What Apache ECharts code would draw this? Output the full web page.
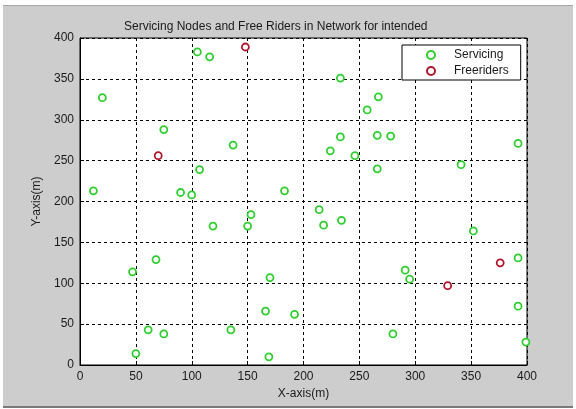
<!DOCTYPE html>
<html>
<head>
<meta charset="utf-8">
<script src="https://cdn.jsdelivr.net/npm/echarts@6/dist/echarts.min.js"></script>
<style>
  html, body { margin: 0; padding: 0; background: #ffffff; }
  #frame { position: absolute; left: 3px; top: 5px; width: 570px; height: 400px;
           background: #cdcdcd; border-top: 1px solid #a8a8a8; border-bottom: 2px solid #7a7a7a; }
  #chart { position: absolute; left: 0; top: 0; width: 576px; height: 409px; }
</style>
</head>
<body>
<div id="frame"></div>
<div id="chart"></div>
<script>
// Node positions (x, y) in metres
const servicingX = [105, 116, 20, 75, 137, 107, 12, 90, 100, 183,
                    233, 267, 257, 233, 266, 278, 392, 224, 246, 266,
                    341, 214, 153, 119, 150, 68, 47, 170, 166, 192,
                    61, 75, 135, 50, 169, 218, 234, 352, 392, 291,
                    295, 392, 280, 399];
const servicingY = [383, 377, 327, 288, 269, 239, 213, 211, 208, 213,
                    351, 328, 312, 279, 281, 280, 271, 262, 256, 240,
                    245, 190, 184, 170, 170, 129, 114, 107, 66, 62,
                    43, 38, 43, 14, 10, 171, 177, 164, 131, 116,
                    105, 72, 38, 28];
const freeriderX = [148, 70, 376, 329];
const freeriderY = [389, 256, 125, 97];

const axisTicks = [0, 50, 100, 150, 200, 250, 300, 350, 400];

const pairs = (xs, ys) => xs.map((x, i) => [x, ys[i]]);

const font = 'Arial, "Liberation Sans", sans-serif';
const green = '#2fcf2f';
const red = '#b0172c';

function axis(name, nameGap) {
  return {
    type: 'value', min: axisTicks[0], max: axisTicks[axisTicks.length - 1],
    interval: axisTicks[1] - axisTicks[0],
    name: name, nameLocation: 'middle', nameGap: nameGap,
    nameTextStyle: { color: '#1a1a1a', fontSize: 12, fontFamily: font },
    axisLine: { show: true, lineStyle: { color: '#000', width: 1 } },
    axisTick: { show: true, inside: true, length: 4, lineStyle: { color: '#000' } },
    axisLabel: { color: '#1a1a1a', fontSize: 12, fontFamily: font, margin: 6 },
    splitLine: { show: true, lineStyle: { color: '#000', type: [3, 3], width: 1 } }
  };
}

const chart = echarts.init(document.getElementById('chart'), null, { renderer: 'canvas' });
chart.setOption({
  animation: false,
  backgroundColor: 'transparent',
  title: {
    text: 'Servicing Nodes and Free Riders in Network for intended',
    left: 119, top: 16,
    textStyle: { color: '#1a1a1a', fontSize: 12, fontWeight: 'normal', fontFamily: font }
  },
  grid: {
    left: 80, top: 38, right: 49, bottom: 44,
    show: true, backgroundColor: '#ffffff', borderColor: '#000', borderWidth: 1
  },
  xAxis: axis('X-axis(m)', 21),
  yAxis: axis('Y-axis(m)', 33),
  legend: {
    orient: 'vertical', left: 402, top: 45,
    backgroundColor: '#ffffff', borderColor: '#000', borderWidth: 1, borderRadius: 0,
    padding: [4, 12, 3, 24],
    itemWidth: 12, itemHeight: 8, itemGap: 4,
    textStyle: { color: '#1a1a1a', fontSize: 12, fontFamily: font, padding: [0, 0, 0, 12] },
    data: ['Servicing', 'Freeriders']
  },
  series: [
    {
      name: 'Servicing', type: 'scatter', symbol: 'circle', symbolSize: 7,
      itemStyle: { color: '#ffffff', borderColor: green, borderWidth: 1.8, opacity: 1 },
      data: pairs(servicingX, servicingY)
    },
    {
      name: 'Freeriders', type: 'scatter', symbol: 'circle', symbolSize: 7,
      itemStyle: { color: '#ffffff', borderColor: red, borderWidth: 1.8, opacity: 1 },
      data: pairs(freeriderX, freeriderY)
    }
  ]
});
</script>
</body>
</html>
